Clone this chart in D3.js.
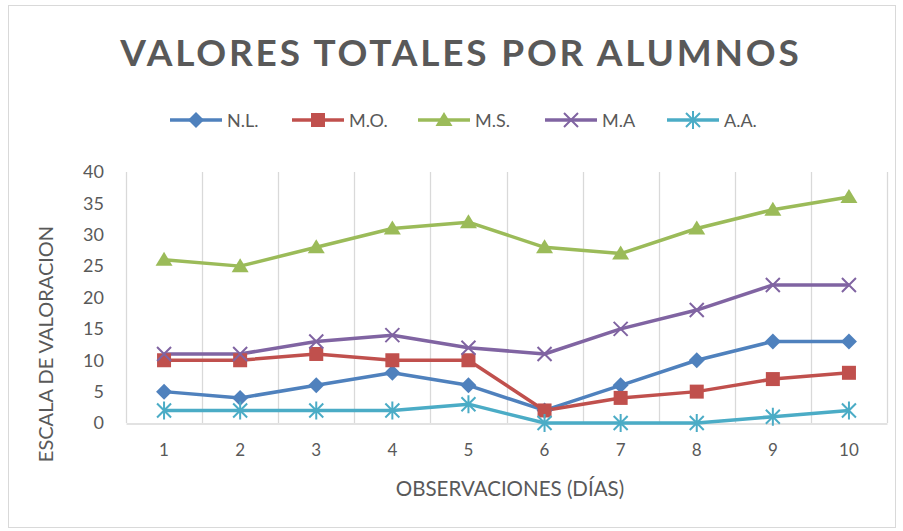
<!DOCTYPE html>
<html>
<head>
<meta charset="utf-8">
<script src="https://cdn.jsdelivr.net/npm/d3@7"></script>
<style>
    body { margin: 0; background: #fff; }
    svg { display: block; font-family: Lato, "Open Sans", sans-serif; }
</style>
</head>
<body>
<div id="chart"></div>
<script>
// data
var days = ["1", "2", "3", "4", "5", "6", "7", "8", "9", "10"];
var seriesNames = ["N.L.", "M.O.", "M.S.", "M.A", "A.A."];
var nl = [5, 4, 6, 8, 6, 2, 6, 10, 13, 13];
var mo = [10, 10, 11, 10, 10, 2, 4, 5, 7, 8];
var ms = [26, 25, 28, 31, 32, 28, 27, 31, 34, 36];
var ma = [11, 11, 13, 14, 12, 11, 15, 18, 22, 22];
var aa = [2, 2, 2, 2, 3, 0, 0, 0, 1, 2];
var yTicks = [0, 5, 10, 15, 20, 25, 30, 35, 40];

var colors = ["#4F81BD", "#C0504D", "#9BBB59", "#8064A2", "#4BACC6"];
var symbols = ["diamond", "square", "triangle", "x", "asterisk"];
var series = [nl, mo, ms, ma, aa].map(function (vals, i) {
    return {name: seriesNames[i], values: vals, color: colors[i], symbol: symbols[i]};
});

var width = 903, height = 531;
var plot = {left: 126, right: 887, top: 172, bottom: 423};
var textColor = "#595959";

var svg = d3.select("#chart").append("svg")
    .attr("width", width)
    .attr("height", height);

// chart border
svg.append("rect")
    .attr("x", 8.5).attr("y", 5.5)
    .attr("width", 887).attr("height", 522)
    .attr("fill", "#fff")
    .attr("stroke", "#d9d9d9");

var x = d3.scaleBand().domain(days).range([plot.left, plot.right]);
var y = d3.scaleLinear().domain([0, 40]).range([plot.bottom, plot.top]);

// vertical gridlines on category boundaries
var bounds = days.map(function (d) { return x(d); }).concat([plot.right]);
svg.append("g").selectAll("line")
    .data(bounds)
    .join("line")
    .attr("x1", function (d) { return Math.round(d) + 0.5; })
    .attr("x2", function (d) { return Math.round(d) + 0.5; })
    .attr("y1", plot.top)
    .attr("y2", plot.bottom)
    .attr("stroke", "#d9d9d9")
    .attr("stroke-width", 1.3);

// x axis line and labels
var xAxis = d3.axisBottom(x).tickSize(0).tickPadding(20);
var gx = svg.append("g")
    .attr("transform", "translate(0," + (plot.bottom + 0.5) + ")")
    .call(xAxis);
gx.select(".domain").attr("stroke", "#d9d9d9").attr("stroke-width", 1.5);
gx.selectAll("text").attr("fill", textColor).style("font-size", "17px").style("font-family", "Lato");

// y axis labels
var yAxis = d3.axisLeft(y).tickValues(yTicks).tickSize(0).tickPadding(22);
var gy = svg.append("g")
    .attr("transform", "translate(" + plot.left + ",0)")
    .call(yAxis);
gy.select(".domain").remove();
gy.selectAll("text").attr("fill", textColor).style("font-size", "18px").style("font-family", "Lato");

// lines
var line = d3.line()
    .x(function (d, i) { return x(days[i]) + x.bandwidth() / 2; })
    .y(function (d) { return y(d); });

svg.append("g").selectAll("path")
    .data(series)
    .join("path")
    .attr("d", function (s) { return line(s.values); })
    .attr("fill", "none")
    .attr("stroke", function (s) { return s.color; })
    .attr("stroke-width", 3.5)
    .attr("stroke-linejoin", "round");

// marker drawing
function drawMarker(g, sym, color) {
    if (sym === "diamond") {
        g.append("path").attr("d", "M0,-8L8,0L0,8L-8,0Z").attr("fill", color);
    } else if (sym === "square") {
        g.append("rect").attr("x", -7).attr("y", -7).attr("width", 14).attr("height", 14).attr("fill", color);
    } else if (sym === "triangle") {
        g.append("path").attr("d", "M0,-8L8.5,6L-8.5,6Z").attr("fill", color);
    } else if (sym === "x") {
        g.append("path").attr("d", "M-7,-7L7,7M-7,7L7,-7").attr("stroke", color).attr("stroke-width", 2);
    } else {
        g.append("path").attr("d", "M-7,-7L7,7M-7,7L7,-7M0,-9V9").attr("stroke", color).attr("stroke-width", 2);
    }
}

series.forEach(function (s) {
    var g = svg.append("g");
    s.values.forEach(function (v, i) {
        var m = g.append("g")
            .attr("transform", "translate(" + (x(days[i]) + x.bandwidth() / 2) + "," + y(v) + ")");
        drawMarker(m, s.symbol, s.color);
    });
});

// title
svg.append("text")
    .attr("x", 461).attr("y", 66)
    .attr("text-anchor", "middle")
    .attr("fill", textColor)
    .style("font-size", "37px")
    .style("font-weight", "bold")
    .style("letter-spacing", "2.8px")
    .text("VALORES TOTALES POR ALUMNOS");

// legend
var legendX = [170, 292, 418, 545, 667];
var legend = svg.append("g").selectAll("g")
    .data(series)
    .join("g")
    .attr("transform", function (s, i) { return "translate(" + legendX[i] + ",120)"; });
legend.append("line")
    .attr("x1", 0).attr("x2", 52)
    .attr("stroke", function (s) { return s.color; })
    .attr("stroke-width", 3.5);
legend.each(function (s) {
    var m = d3.select(this).append("g").attr("transform", "translate(26,0)");
    drawMarker(m, s.symbol, s.color);
});
legend.append("text")
    .attr("x", 57).attr("y", 7)
    .attr("fill", textColor)
    .style("font-size", "18px")
    .text(function (s) { return s.name; });

// axis titles
svg.append("text")
    .attr("x", 510).attr("y", 496)
    .attr("text-anchor", "middle")
    .attr("fill", textColor)
    .style("font-size", "20.5px")
    .text("OBSERVACIONES (DÍAS)");

svg.append("text")
    .attr("transform", "translate(53,344) rotate(-90)")
    .attr("text-anchor", "middle")
    .attr("fill", textColor)
    .style("font-size", "20px")
    .text("ESCALA DE VALORACION");
</script>
</body>
</html>
